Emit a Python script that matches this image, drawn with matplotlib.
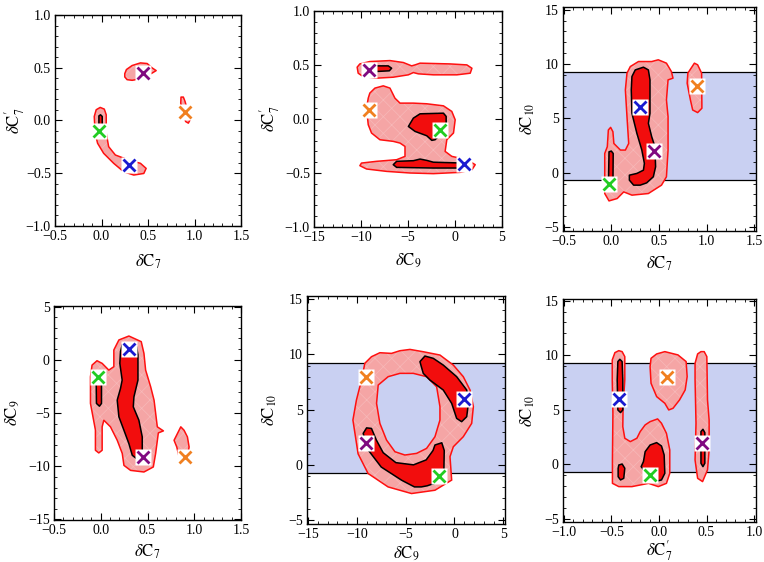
import matplotlib
matplotlib.use("Agg")
import matplotlib.pyplot as plt
from matplotlib.patches import Polygon
from matplotlib.ticker import MultipleLocator

plt.rcParams['font.family'] = ['Liberation Serif', 'DejaVu Serif']
plt.rcParams['mathtext.fontset'] = 'stix'
plt.rcParams['hatch.linewidth'] = 0.5

# best-fit points: blue, purple, green, orange
c7 = [0.30, 0.45, -0.03, 0.90]
c7p = [-0.42, 0.45, -0.10, 0.08]
c9 = [1.0, -9.1, -1.6, -9.1]
c10 = [6.0, 2.0, -1.0, 8.0]
point_colors = ['#1a1ad0', '#800a80', '#22cc22', '#f08020']

# allowed C10 band
band_c10 = (-0.7, 9.25)

# tick values and labels
ticks_c7 = [-0.5, 0.0, 0.5, 1.0, 1.5]
labels_c7 = ['\u22120.5', '0.0', '0.5', '1.0', '1.5']
ticks_c7p = [-1.0, -0.5, 0.0, 0.5, 1.0]
labels_c7p = ['\u22121.0', '\u22120.5', '0.0', '0.5', '1.0']
ticks_c9x = [-15, -10, -5, 0, 5]
labels_c9x = ['\u221215', '\u221210', '\u22125', '0', '5']
ticks_c9y = [-15, -10, -5, 0, 5]
labels_c9y = ['\u221215', '\u221210', '\u22125', '0', '5']
ticks_c10 = [-5, 0, 5, 10, 15]
labels_c10 = ['\u22125', '0', '5', '10', '15']

# panel 1: C7 vs C7'
p1_light = [
    [(0.25, 0.444), (0.268, 0.483), (0.329, 0.521), (0.419, 0.546), (0.491, 0.54), (0.545, 0.498),
     (0.588, 0.473), (0.545, 0.45), (0.491, 0.425), (0.419, 0.394), (0.329, 0.381), (0.275, 0.387),
     (0.25, 0.413)],
    [(-0.014, 0.124), (0.03, 0.108), (0.051, 0.054), (0.051, -0.121), (0.077, -0.248), (0.149, -0.327),
     (0.293, -0.375), (0.419, -0.406), (0.48, -0.454), (0.455, -0.502), (0.347, -0.517), (0.239, -0.486),
     (0.131, -0.406), (0.023, -0.311), (-0.042, -0.216), (-0.068, -0.121), (-0.078, 0.038), (-0.057, 0.102)],
    [(0.855, 0.222), (0.88, 0.222), (0.898, 0.181), (0.934, 0.07), (0.952, 0.006), (0.934, -0.025),
     (0.905, -0.01), (0.88, 0.054), (0.852, 0.165)],
]
p1_dark = [
    [(0.39, 0.483), (0.419, 0.495), (0.455, 0.476), (0.437, 0.444), (0.39, 0.45)],
    [(-0.028, 0.044), (-0.01, 0.054), (0.008, 0.038), (0.008, -0.057), (-0.01, -0.083), (-0.028, -0.057)],
    [(0.246, -0.4), (0.275, -0.384), (0.293, -0.422), (0.268, -0.448), (0.239, -0.429)],
]

# panel 2: C9 vs C7'
p2_light = [
    [(-10.41, 0.48), (-10.12, 0.51), (-9.06, 0.532), (-6.92, 0.541), (-5.5, 0.523), (-4.61, 0.492),
     (-4.25, 0.501), (-3.72, 0.517), (-0.52, 0.51), (1.26, 0.501), (1.8, 0.47), (1.62, 0.424),
     (0.2, 0.409), (-2.3, 0.409), (-3.9, 0.418), (-4.43, 0.43), (-4.96, 0.409), (-6.57, 0.387),
     (-8.35, 0.378), (-9.77, 0.393), (-10.3, 0.424)],
    [(-9.06, 0.24), (-8.52, 0.286), (-7.63, 0.307), (-6.92, 0.286), (-6.39, 0.193), (-5.85, 0.147),
     (-4.43, 0.147), (-3.01, 0.141), (-1.23, 0.122), (-0.34, 0.07), (0.02, -0.007), (-0.16, -0.13),
     (-0.87, -0.192), (-1.05, -0.3), (-0.34, -0.346), (1.26, -0.377), (2.15, -0.423), (1.8, -0.47),
     (0.55, -0.494), (-2.3, -0.506), (-4.79, -0.5), (-7.28, -0.485), (-9.41, -0.463), (-10.12, -0.432),
     (-9.95, -0.408), (-8.35, -0.392), (-6.21, -0.377), (-5.32, -0.346), (-5.32, -0.254), (-5.85, -0.223),
     (-6.57, -0.207), (-7.99, -0.192), (-8.88, -0.13), (-9.23, -0.053), (-9.41, 0.1), (-9.23, 0.193)],
]
p2_dark = [
    [(-9.2, 0.492), (-7.1, 0.492), (-6.74, 0.47), (-6.99, 0.446), (-8.35, 0.44), (-9.2, 0.449)],
    [(-4.96, -0.069), (-4.43, 0.008), (-3.72, 0.048), (-1.23, 0.054), (-0.94, 0.024), (-0.94, -0.115),
     (-1.58, -0.146), (-2.12, -0.192), (-2.47, -0.198), (-3.01, -0.155), (-4.25, -0.115)],
    [(-6.57, -0.423), (-6.21, -0.392), (-4.43, -0.386), (-3.72, -0.371), (-3.01, -0.383), (-2.3, -0.4),
     (0.9, -0.408), (0.9, -0.454), (-2.3, -0.454), (-6.21, -0.448)],
]

# panel 3: C7 vs C10
p3_light = [
    [(0.198, 9.77), (0.284, 10.23), (0.423, 10.23), (0.492, 10.39), (0.578, 10.08), (0.63, 9.31),
     (0.647, 8.7), (0.595, 8.54), (0.578, 6.7), (0.595, 5.16), (0.595, 2.08), (0.578, -0.38),
     (0.526, -1.15), (0.388, -1.92), (0.215, -2.07), (0.129, -1.77), (0.06, -2.38), (-0.026, -2.6),
     (-0.071, -1.92), (-0.071, 1.77), (-0.044, 2.39), (-0.033, 3.93), (-0.009, 4.17), (0.015, 3.77),
     (0.025, 2.69), (0.094, 2.08), (0.146, 2.08), (0.181, 2.69), (0.163, 5.16), (0.146, 7.62),
     (0.163, 9.16)],
    [(0.803, 9.16), (0.872, 10.08), (0.906, 9.93), (0.948, 9.16), (0.951, 5.93), (0.906, 5.53),
     (0.854, 5.77), (0.83, 6.7), (0.796, 8.23)],
]
p3_dark = [
    [(0.215, 8.85), (0.25, 9.46), (0.336, 9.71), (0.388, 9.46), (0.405, 8.54), (0.405, 5.46),
     (0.388, 4.54), (0.423, 3.31), (0.457, 2.39), (0.464, 0.54), (0.44, -0.38), (0.37, -0.94),
     (0.302, -1.15), (0.233, -1.15), (0.188, -0.69), (0.188, -0.23), (0.267, -0.07), (0.336, 0.23),
     (0.346, 0.85), (0.319, 2.08), (0.267, 3.62), (0.215, 5.46), (0.208, 7.62)],
    [(-0.026, 1.92), (-0.002, 1.99), (0.018, 1.77), (0.015, -1.46), (-0.009, -1.7), (-0.033, -1.46)],
]

# panel 4: C7 vs C9
p4_light = [
    [(0.301, 2.23), (0.433, 1.70), (0.462, 0.60), (0.48, -0.97), (0.534, -2.54), (0.57, -3.79),
     (0.605, -6.3), (0.67, -6.68), (0.616, -6.87), (0.587, -8.8), (0.562, -10.07), (0.462, -10.54),
     (0.319, -10.39), (0.248, -9.92), (0.23, -8.8), (0.176, -7.56), (0.104, -6.3), (0.033, -5.68),
     (0.015, -6.3), (0.015, -8.5), (-0.021, -8.75), (-0.057, -8.5), (-0.057, -6.6), (-0.11, -4.1),
     (-0.11, -1.6), (-0.093, -0.5), (-0.04, -0.09), (0.015, -0.34), (0.086, -0.97), (0.14, -0.65),
     (0.14, 0.92), (0.194, 1.86)],
    [(0.802, -7.25), (0.856, -6.3), (0.891, -6.62), (0.927, -7.25), (0.945, -8.19), (0.927, -9.13),
     (0.891, -9.54), (0.838, -9.13), (0.813, -8.19), (0.784, -7.56)],
]
p4_dark = [
    [(0.211, 0.76), (0.229, 1.39), (0.301, 1.54), (0.383, 1.23), (0.398, 0.45), (0.398, -1.91),
     (0.355, -3.48), (0.348, -4.42), (0.408, -5.68), (0.444, -7.25), (0.444, -8.97), (0.383, -9.29),
     (0.337, -8.97), (0.301, -7.88), (0.248, -6.62), (0.194, -5.36), (0.176, -3.79), (0.211, -2.7),
     (0.229, -1.91), (0.204, -0.34)],
    [(-0.05, -1.28), (-0.021, -1.12), (0.008, -1.44), (0.008, -4.1), (-0.014, -4.36), (-0.046, -4.1)],
]

# panel 5: C9 vs C10 (ring)
p5_outer = [(-7.64, 10.16), (-6.45, 10.1), (-5.59, 10.34), (-4.56, 10.46), (-3.2, 10.25), (-1.49, 9.95),
            (-0.12, 9.04), (0.9, 7.99), (1.59, 6.78), (1.93, 5.27), (1.76, 3.76), (0.9, 2.55),
            (-0.12, 1.64), (-0.46, 0.74), (-0.29, -1.38), (-2.0, -2.3), (-4.4, -2.6), (-6.8, -2.0),
            (-8.85, -0.78), (-9.87, 1.0), (-10.4, 4.06), (-10.04, 5.87), (-9.52, 7.68), (-9.18, 9.2),
            (-8.5, 9.8)]
p5_hole = [(-7.81, 7.23), (-6.79, 7.99), (-5.59, 8.29), (-4.22, 8.29), (-2.86, 7.99), (-1.83, 7.08),
           (-1.49, 5.27), (-1.49, 4.06), (-2.0, 2.55), (-2.86, 1.49), (-3.88, 1.04), (-5.08, 0.89),
           (-6.1, 1.19), (-6.96, 2.25), (-7.64, 3.76), (-7.98, 5.57)]
p5_dark = [
    [(-3.54, 9.35), (-3.03, 9.86), (-2.17, 9.65), (-1.15, 9.04), (0.22, 7.99), (1.25, 6.78),
     (1.42, 5.57), (1.25, 4.36), (0.73, 3.91), (0.22, 4.21), (-0.29, 5.57), (-1.15, 6.78),
     (-2.51, 7.68), (-3.2, 8.29)],
    [(-9.35, 2.85), (-9.0, 3.35), (-8.5, 3.3), (-8.0, 2.25), (-7.3, 1.1), (-6.0, 0.2), (-4.2, 0.0),
     (-2.9, 0.45), (-2.2, 1.3), (-2.0, 1.8), (-1.3, 2.0), (-1.05, 1.3), (-1.1, -1.2), (-1.8, -1.6),
     (-2.8, -1.9), (-3.4, -2.0), (-4.1, -2.0), (-5.4, -1.4), (-7.5, -0.2), (-8.8, 1.3)],
]

# panel 6: C7' vs C10
p6_light = [
    [(-0.423, 10.42), (-0.464, 10.24), (-0.492, 9.57), (-0.492, 7.74), (-0.485, 4.68), (-0.49, 0.5),
     (-0.49, -1.73), (-0.423, -2.03), (-0.285, -2.03), (-0.11, -1.73), (-0.008, -2.03), (0.078, -1.73),
     (0.113, -0.81), (0.113, 1.33), (0.078, 2.85), (0.026, 3.77), (-0.015, 4.17), (-0.094, 3.92),
     (-0.146, 3.62), (-0.198, 3.01), (-0.233, 2.4), (-0.302, 2.09), (-0.36, 2.4), (-0.381, 3.46),
     (-0.378, 5.3), (-0.36, 7.74), (-0.36, 9.87), (-0.388, 10.33)],
    [(-0.025, 10.12), (0.061, 10.33), (0.199, 10.03), (0.285, 9.42), (0.296, 8.04), (0.275, 6.82),
     (0.216, 5.91), (0.147, 5.14), (0.102, 4.99), (0.061, 5.6), (-0.025, 6.21), (-0.084, 7.43),
     (-0.094, 8.96), (-0.084, 9.72)],
    [(0.441, 10.33), (0.475, 10.33), (0.503, 9.87), (0.51, 5.9), (0.527, 4.07), (0.527, 1.33),
     (0.51, -0.5), (0.458, -1.57), (0.406, -1.27), (0.379, 0.41), (0.389, 3.77), (0.379, 7.74),
     (0.379, 9.26), (0.406, 10.12)],
]
p6_dark = [
    [(-0.433, 9.42), (-0.412, 9.63), (-0.388, 9.42), (-0.381, 7.74), (-0.381, 4.99), (-0.405, 4.75),
     (-0.433, 4.99), (-0.44, 7.74)],
    [(-0.423, -0.05), (-0.388, 0.04), (-0.36, -0.35), (-0.371, -1.27), (-0.405, -1.42), (-0.43, -1.12),
     (-0.43, -0.35)],
    [(-0.146, 1.17), (-0.094, 1.78), (-0.025, 2.0), (0.026, 1.69), (0.054, 0.87), (0.061, -0.81),
     (0.026, -1.42), (-0.043, -1.57), (-0.112, -1.27), (-0.146, -0.66), (-0.188, -0.2), (-0.164, 0.26)],
    [(0.441, 3.01), (0.462, 3.22), (0.482, 2.91), (0.482, 0.11), (0.462, -0.2), (0.441, 0.11)],
]

LIGHT = '#f5a5a5'
HATCH = '#f7b9b9'
DARK = '#f20d0d'
BAND = '#c9d0f2'

lbl_c7 = r'$\delta\mathrm{C}_7$'
lbl_c7p = r'$\delta\mathrm{C}_7^{\prime}$'
lbl_c9 = r'$\delta\mathrm{C}_9$'
lbl_c10 = r'$\delta\mathrm{C}_{10}$'

fig = plt.figure(figsize=(7.64, 5.62), dpi=100)


def make_axes(box, xlim, ylim, xlab_y, ylab_x):
    l, t, r, b = box
    ax = fig.add_axes([l / 764, 1 - b / 562, (r - l) / 764, (b - t) / 562])
    ax.set_xlim(*xlim)
    ax.set_ylim(*ylim)
    for s in ax.spines.values():
        s.set_linewidth(1.0)
    ax.tick_params(which='both', direction='in', top=True, right=True, labelsize=10, pad=3)
    ax.tick_params(which='major', length=5, width=0.8)
    ax.tick_params(which='minor', length=2.5, width=0.6)
    # label centres given in figure pixels
    ax.xaxis.set_label_coords(0.5, (b - xlab_y) / (b - t))
    ax.yaxis.set_label_coords((ylab_x - l) / (r - l), 0.5)
    return ax


def set_ticks(ax, xt, xl, xminor, yt, yl, yminor, xlabel, ylabel):
    ax.set_xticks(xt)
    ax.set_xticklabels(xl)
    ax.set_yticks(yt)
    ax.set_yticklabels(yl)
    ax.xaxis.set_minor_locator(MultipleLocator(xminor))
    ax.yaxis.set_minor_locator(MultipleLocator(yminor))
    ax.set_xlabel(xlabel, fontsize=12, va='center')
    ax.set_ylabel(ylabel, fontsize=12, va='center')


def draw_regions(ax, light, dark):
    for verts in light:
        ax.add_patch(Polygon(verts, closed=True, facecolor=LIGHT, edgecolor=HATCH,
                             hatch='xx', lw=0, zorder=1))
        ax.add_patch(Polygon(verts, closed=True, fill=False, edgecolor='#ff1010',
                             lw=1.1, joinstyle='round', zorder=2))
    for verts in dark:
        ax.add_patch(Polygon(verts, closed=True, facecolor=DARK, edgecolor='black',
                             lw=1.1, joinstyle='round', zorder=3))


def draw_band(ax):
    ax.axhspan(band_c10[0], band_c10[1], color=BAND, lw=0, zorder=0)
    ax.axhline(band_c10[0], color='black', lw=0.9, zorder=0.5)
    ax.axhline(band_c10[1], color='black', lw=0.9, zorder=0.5)


def draw_points(ax, xs, ys):
    for x, y, c in zip(xs, ys, point_colors):
        ax.plot(x, y, 's', ms=11, color='white', mec='none', zorder=5)
        ax.plot(x, y, 'x', ms=8, mew=2, color=c, zorder=6)


# panel 1
ax = make_axes((55, 15, 241, 226), (-0.5, 1.5), (-1.0, 1.0), 262, 15)
draw_regions(ax, p1_light, p1_dark)
draw_points(ax, c7, c7p)
set_ticks(ax, ticks_c7, labels_c7, 0.1, ticks_c7p, labels_c7p, 0.1, lbl_c7, lbl_c7p)

# panel 2
ax = make_axes((314, 11, 502, 227), (-15, 5), (-1.0, 1.0), 261, 270)
draw_regions(ax, p2_light, p2_dark)
draw_points(ax, c9, c7p)
set_ticks(ax, ticks_c9x, labels_c9x, 1, ticks_c7p, labels_c7p, 0.1, lbl_c9, lbl_c7p)

# panel 3
ax = make_axes((563, 7, 756, 231), (-0.51, 1.52), (-5.37, 15.25), 264, 528)
draw_band(ax)
draw_regions(ax, p3_light, p3_dark)
draw_points(ax, c7, c10)
set_ticks(ax, ticks_c7, labels_c7, 0.1, ticks_c10, labels_c10, 1, lbl_c7, lbl_c10)

# panel 4
ax = make_axes((54, 306, 241, 520), (-0.5, 1.5), (-15.05, 5.05), 552, 13)
draw_regions(ax, p4_light, p4_dark)
draw_points(ax, c7, c9)
set_ticks(ax, ticks_c7, labels_c7, 0.1, ticks_c9y, labels_c9y, 1, lbl_c7, lbl_c9)

# panel 5
ax = make_axes((307, 296, 505, 524), (-15.1, 5.17), (-5.36, 15.3), 554, 270)
draw_band(ax)
ax.add_patch(Polygon(p5_outer, closed=True, facecolor=LIGHT, edgecolor=HATCH, hatch='xx', lw=0, zorder=1))
ax.add_patch(Polygon(p5_outer, closed=True, fill=False, edgecolor='#ff1010', lw=1.1, zorder=2))
ax.add_patch(Polygon(p5_hole, closed=True, facecolor=BAND, edgecolor='#ff1010', lw=1.1, zorder=2))
draw_regions(ax, [], p5_dark)
draw_points(ax, c9, c10)
set_ticks(ax, ticks_c9x, labels_c9x, 1, ticks_c10, labels_c10, 1, lbl_c9, lbl_c10)

# panel 6
ax = make_axes((563, 299, 756, 522), (-1.01, 1.02), (-5.27, 15.15), 551, 528)
draw_band(ax)
draw_regions(ax, p6_light, p6_dark)
draw_points(ax, c7p, c10)
set_ticks(ax, [-1.0, -0.5, 0.0, 0.5, 1.0], ['\u22121.0', '\u22120.5', '0.0', '0.5', '1.0'], 0.1,
          ticks_c10, labels_c10, 1, lbl_c7p, lbl_c10)

fig.savefig('out.png', dpi=100)
